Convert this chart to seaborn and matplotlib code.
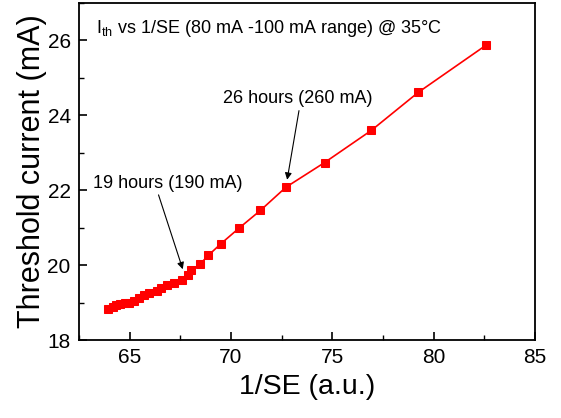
import matplotlib
matplotlib.use("Agg")
import matplotlib.pyplot as plt
import seaborn as sns
import pandas as pd
from matplotlib.ticker import MultipleLocator

# values
inv_se = [63.95, 64.18, 64.35, 64.51, 64.77, 64.97, 65.20, 65.46, 65.72, 65.95,
          66.35, 66.54, 66.84, 67.20, 67.56, 67.89, 68.05, 68.48, 68.88, 69.50,
          70.38, 71.45, 72.71, 74.62, 76.93, 79.23, 82.60]
i_th = [18.82, 18.89, 18.93, 18.96, 18.98, 18.98, 19.03, 19.12, 19.19, 19.25,
        19.30, 19.39, 19.46, 19.52, 19.59, 19.73, 19.87, 20.03, 20.26, 20.57,
        20.98, 21.46, 22.08, 22.74, 23.60, 24.61, 25.88]

df = pd.DataFrame({"inv_se": inv_se, "i_th": i_th})

sns.set_style("ticks")
plt.rcParams['font.family'] = ['Liberation Sans', 'DejaVu Sans']
plt.rcParams['mathtext.default'] = 'regular'
for k in ['text.color', 'axes.labelcolor', 'xtick.color', 'ytick.color', 'axes.edgecolor']:
    plt.rcParams[k] = 'black'

fig = plt.figure(figsize=(5.61, 4.18), dpi=100)
ax = fig.add_axes([0.1408, 0.1866, 0.8129, 0.8062])

sns.lineplot(data=df, x="inv_se", y="i_th", ax=ax, color="#ff0000",
             marker="s", markersize=6, markeredgecolor="#ff0000",
             linewidth=1.2, sort=False)

ax.set_xlim(62.5, 85)
ax.set_ylim(18, 27)
ax.xaxis.set_major_locator(MultipleLocator(5))
ax.xaxis.set_minor_locator(MultipleLocator(2.5))
ax.yaxis.set_major_locator(MultipleLocator(2))
ax.yaxis.set_minor_locator(MultipleLocator(1))
ax.tick_params(which="major", direction="in", length=6, width=1.2,
               labelsize=15, pad=6)
ax.tick_params(which="minor", direction="in", length=3.5, width=1.0)
for s in ax.spines.values():
    s.set_linewidth(1.3)

ax.set_xlabel("1/SE (a.u.)", fontsize=20.5, labelpad=5)
ax.set_ylabel("Threshold current (mA)", fontsize=22, labelpad=0)

ax.text(63.33, 26.2, "I$_{th}$ vs 1/SE (80 mA -100 mA range) @ 35°C",
        fontsize=13, va="baseline", ha="left")

ax.annotate("19 hours (190 mA)", xy=(67.62, 19.89), xytext=(63.2, 22.19),
            fontsize=13, va="center", ha="left",
            arrowprops=dict(arrowstyle="-|>", color="black", lw=0.8,
                            shrinkA=0, shrinkB=0, mutation_scale=10,
                            relpos=(0.43, 0.0)))
ax.annotate("26 hours (260 mA)", xy=(72.77, 22.28), xytext=(69.62, 24.44),
            fontsize=13, va="center", ha="left",
            arrowprops=dict(arrowstyle="-|>", color="black", lw=0.8,
                            shrinkA=0, shrinkB=0, mutation_scale=10,
                            relpos=(0.51, 0.0)))

fig.savefig("out.png", dpi=100)
